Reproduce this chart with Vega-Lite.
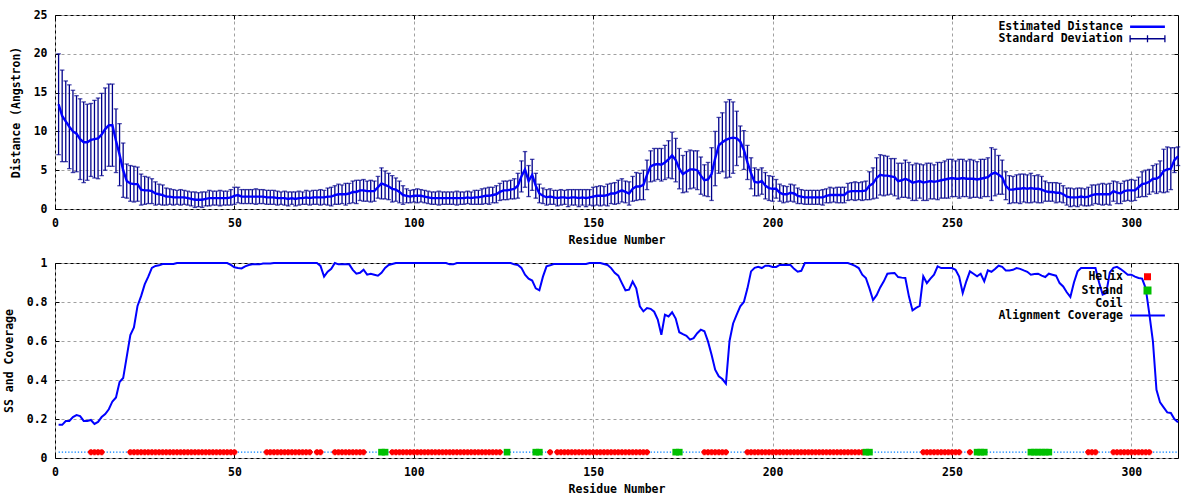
{
"$schema": "https://vega.github.io/schema/vega-lite/v6.json",
"background": "white",
"padding": {"left": 2, "top": 8, "right": 5, "bottom": 0},
"spacing": 9,
"columns": 1,
"align": "none",
"datasets": {"res": [
{"r":1,"d":13.5,"s":6.5,"c":0.17,"ss":"C"},{"r":2,"d":12.0,"s":5.9,"c":0.17,"ss":"C"},{"r":3,"d":11.3,"s":5.2,"c":0.19,"ss":"C"},{"r":4,"d":10.6,"s":5.4,"c":0.19,"ss":"C"},{"r":5,"d":10.0,"s":5.3,"c":0.21,"ss":"C"},{"r":6,"d":9.7,"s":4.9,"c":0.22,"ss":"C"},{"r":7,"d":9.0,"s":5.2,"c":0.215,"ss":"C"},{"r":8,"d":8.6,"s":5.2,"c":0.19,"ss":"C"},{"r":9,"d":8.6,"s":4.9,"c":0.19,"ss":"C"},{"r":10,"d":8.9,"s":4.7,"c":0.195,"ss":"H"},
{"r":11,"d":9.0,"s":5.0,"c":0.175,"ss":"H"},{"r":12,"d":9.1,"s":5.2,"c":0.185,"ss":"H"},{"r":13,"d":9.6,"s":5.3,"c":0.21,"ss":"H"},{"r":14,"d":10.3,"s":5.3,"c":0.225,"ss":"C"},{"r":15,"d":10.8,"s":5.3,"c":0.25,"ss":"C"},{"r":16,"d":10.8,"s":5.3,"c":0.29,"ss":"C"},{"r":17,"d":8.8,"s":4.1,"c":0.31,"ss":"C"},{"r":18,"d":7.0,"s":4.0,"c":0.39,"ss":"C"},{"r":19,"d":5.0,"s":3.5,"c":0.41,"ss":"C"},{"r":20,"d":3.6,"s":2.2,"c":0.52,"ss":"C"},
{"r":21,"d":3.3,"s":2.3,"c":0.63,"ss":"H"},{"r":22,"d":3.2,"s":2.3,"c":0.67,"ss":"H"},{"r":23,"d":3.2,"s":2.2,"c":0.78,"ss":"H"},{"r":24,"d":2.5,"s":2.0,"c":0.83,"ss":"H"},{"r":25,"d":2.4,"s":1.8,"c":0.89,"ss":"H"},{"r":26,"d":2.4,"s":1.7,"c":0.93,"ss":"H"},{"r":27,"d":2.3,"s":1.6,"c":0.975,"ss":"H"},{"r":28,"d":2.0,"s":1.5,"c":0.985,"ss":"H"},{"r":29,"d":1.9,"s":1.3,"c":0.988,"ss":"H"},{"r":30,"d":1.8,"s":1.3,"c":0.995,"ss":"H"},
{"r":31,"d":1.6,"s":1.1,"c":0.995,"ss":"H"},{"r":32,"d":1.6,"s":1.0,"c":0.995,"ss":"H"},{"r":33,"d":1.5,"s":1.0,"c":0.995,"ss":"H"},{"r":34,"d":1.5,"s":0.9,"c":1,"ss":"H"},{"r":35,"d":1.5,"s":1.0,"c":1,"ss":"H"},{"r":36,"d":1.5,"s":0.9,"c":1,"ss":"H"},{"r":37,"d":1.4,"s":0.9,"c":1,"ss":"H"},{"r":38,"d":1.3,"s":0.9,"c":1,"ss":"H"},{"r":39,"d":1.2,"s":1.0,"c":1,"ss":"H"},{"r":40,"d":1.2,"s":0.9,"c":1,"ss":"H"},
{"r":41,"d":1.2,"s":1.0,"c":1,"ss":"H"},{"r":42,"d":1.3,"s":0.9,"c":1,"ss":"H"},{"r":43,"d":1.4,"s":1.0,"c":1,"ss":"H"},{"r":44,"d":1.4,"s":0.9,"c":1,"ss":"H"},{"r":45,"d":1.4,"s":0.9,"c":1,"ss":"H"},{"r":46,"d":1.4,"s":1.0,"c":1,"ss":"H"},{"r":47,"d":1.4,"s":0.9,"c":1,"ss":"H"},{"r":48,"d":1.4,"s":0.9,"c":1,"ss":"H"},{"r":49,"d":1.5,"s":1.0,"c":0.99,"ss":"H"},{"r":50,"d":1.7,"s":1.1,"c":0.978,"ss":"H"},
{"r":51,"d":1.8,"s":1.0,"c":0.974,"ss":"C"},{"r":52,"d":1.6,"s":0.9,"c":0.972,"ss":"C"},{"r":53,"d":1.6,"s":0.9,"c":0.983,"ss":"C"},{"r":54,"d":1.6,"s":0.9,"c":0.99,"ss":"C"},{"r":55,"d":1.6,"s":0.9,"c":0.993,"ss":"C"},{"r":56,"d":1.6,"s":1.0,"c":0.993,"ss":"C"},{"r":57,"d":1.6,"s":0.9,"c":0.993,"ss":"C"},{"r":58,"d":1.6,"s":0.9,"c":0.997,"ss":"C"},{"r":59,"d":1.5,"s":0.9,"c":0.997,"ss":"H"},{"r":60,"d":1.5,"s":0.9,"c":0.997,"ss":"H"},
{"r":61,"d":1.5,"s":0.9,"c":1,"ss":"H"},{"r":62,"d":1.4,"s":0.9,"c":1,"ss":"H"},{"r":63,"d":1.4,"s":0.8,"c":1,"ss":"H"},{"r":64,"d":1.4,"s":0.9,"c":1,"ss":"H"},{"r":65,"d":1.3,"s":0.9,"c":1,"ss":"H"},{"r":66,"d":1.4,"s":0.8,"c":1,"ss":"H"},{"r":67,"d":1.3,"s":0.9,"c":1,"ss":"H"},{"r":68,"d":1.4,"s":0.9,"c":1,"ss":"H"},{"r":69,"d":1.4,"s":0.8,"c":1,"ss":"H"},{"r":70,"d":1.5,"s":0.9,"c":1,"ss":"H"},
{"r":71,"d":1.4,"s":0.9,"c":1,"ss":"H"},{"r":72,"d":1.5,"s":0.9,"c":1,"ss":"C"},{"r":73,"d":1.5,"s":0.9,"c":1,"ss":"H"},{"r":74,"d":1.5,"s":1.0,"c":0.985,"ss":"H"},{"r":75,"d":1.5,"s":0.9,"c":0.93,"ss":"C"},{"r":76,"d":1.6,"s":1.1,"c":0.955,"ss":"C"},{"r":77,"d":1.6,"s":1.2,"c":0.97,"ss":"C"},{"r":78,"d":1.8,"s":1.2,"c":1,"ss":"H"},{"r":79,"d":1.9,"s":1.3,"c":0.993,"ss":"H"},{"r":80,"d":1.9,"s":1.2,"c":0.993,"ss":"H"},
{"r":81,"d":1.9,"s":1.4,"c":0.993,"ss":"H"},{"r":82,"d":2.0,"s":1.3,"c":0.993,"ss":"H"},{"r":83,"d":2.2,"s":1.4,"c":0.965,"ss":"H"},{"r":84,"d":2.2,"s":1.5,"c":0.945,"ss":"H"},{"r":85,"d":2.4,"s":1.3,"c":0.95,"ss":"H"},{"r":86,"d":2.4,"s":1.4,"c":0.966,"ss":"H"},{"r":87,"d":2.3,"s":1.3,"c":0.94,"ss":"C"},{"r":88,"d":2.3,"s":1.4,"c":0.945,"ss":"C"},{"r":89,"d":2.3,"s":1.3,"c":0.94,"ss":"C"},{"r":90,"d":2.8,"s":1.4,"c":0.935,"ss":"C"},
{"r":91,"d":3.3,"s":2.0,"c":0.95,"ss":"E"},{"r":92,"d":3.1,"s":1.8,"c":0.975,"ss":"E"},{"r":93,"d":2.9,"s":1.7,"c":0.99,"ss":"C"},{"r":94,"d":2.6,"s":1.7,"c":0.995,"ss":"H"},{"r":95,"d":2.5,"s":1.5,"c":1,"ss":"H"},{"r":96,"d":2.2,"s":1.4,"c":1,"ss":"H"},{"r":97,"d":1.8,"s":1.2,"c":1,"ss":"H"},{"r":98,"d":1.7,"s":0.9,"c":1,"ss":"H"},{"r":99,"d":1.6,"s":0.8,"c":1,"ss":"H"},{"r":100,"d":1.7,"s":0.8,"c":1,"ss":"H"},
{"r":101,"d":1.7,"s":0.9,"c":1,"ss":"H"},{"r":102,"d":1.7,"s":0.8,"c":1,"ss":"H"},{"r":103,"d":1.6,"s":0.8,"c":1,"ss":"H"},{"r":104,"d":1.5,"s":0.8,"c":1,"ss":"H"},{"r":105,"d":1.4,"s":0.8,"c":1,"ss":"H"},{"r":106,"d":1.4,"s":0.8,"c":1,"ss":"H"},{"r":107,"d":1.4,"s":0.9,"c":1,"ss":"H"},{"r":108,"d":1.4,"s":0.8,"c":1,"ss":"H"},{"r":109,"d":1.4,"s":0.8,"c":1,"ss":"H"},{"r":110,"d":1.4,"s":0.8,"c":0.993,"ss":"H"},
{"r":111,"d":1.4,"s":0.8,"c":0.993,"ss":"H"},{"r":112,"d":1.4,"s":0.9,"c":1,"ss":"H"},{"r":113,"d":1.4,"s":0.8,"c":1,"ss":"H"},{"r":114,"d":1.4,"s":0.8,"c":1,"ss":"H"},{"r":115,"d":1.5,"s":0.8,"c":1,"ss":"H"},{"r":116,"d":1.4,"s":0.8,"c":1,"ss":"H"},{"r":117,"d":1.5,"s":0.9,"c":1,"ss":"H"},{"r":118,"d":1.5,"s":0.9,"c":1,"ss":"H"},{"r":119,"d":1.6,"s":1.0,"c":1,"ss":"H"},{"r":120,"d":1.7,"s":1.0,"c":1,"ss":"H"},
{"r":121,"d":1.7,"s":1.1,"c":1,"ss":"H"},{"r":122,"d":1.8,"s":1.0,"c":1,"ss":"H"},{"r":123,"d":1.9,"s":1.1,"c":1,"ss":"H"},{"r":124,"d":2.2,"s":1.1,"c":1,"ss":"H"},{"r":125,"d":2.4,"s":1.2,"c":1,"ss":"C"},{"r":126,"d":2.4,"s":1.2,"c":1,"ss":"E"},{"r":127,"d":2.5,"s":1.2,"c":1,"ss":"C"},{"r":128,"d":2.6,"s":1.3,"c":0.993,"ss":"C"},{"r":129,"d":3.0,"s":1.6,"c":0.99,"ss":"C"},{"r":130,"d":4.2,"s":2.0,"c":0.975,"ss":"C"},
{"r":131,"d":5.1,"s":2.3,"c":0.94,"ss":"C"},{"r":132,"d":3.6,"s":2.0,"c":0.92,"ss":"C"},{"r":133,"d":4.4,"s":2.0,"c":0.91,"ss":"C"},{"r":134,"d":3.0,"s":1.6,"c":0.87,"ss":"E"},{"r":135,"d":2.0,"s":1.2,"c":0.86,"ss":"E"},{"r":136,"d":1.7,"s":1.0,"c":0.93,"ss":"C"},{"r":137,"d":1.5,"s":1.0,"c":0.983,"ss":"C"},{"r":138,"d":1.6,"s":1.0,"c":0.988,"ss":"H"},{"r":139,"d":1.5,"s":0.9,"c":0.995,"ss":"C"},{"r":140,"d":1.4,"s":1.0,"c":0.995,"ss":"H"},
{"r":141,"d":1.5,"s":1.0,"c":0.995,"ss":"H"},{"r":142,"d":1.5,"s":0.9,"c":0.995,"ss":"H"},{"r":143,"d":1.4,"s":1.1,"c":0.995,"ss":"H"},{"r":144,"d":1.5,"s":1.0,"c":0.995,"ss":"H"},{"r":145,"d":1.5,"s":1.0,"c":0.995,"ss":"H"},{"r":146,"d":1.4,"s":1.1,"c":0.995,"ss":"H"},{"r":147,"d":1.5,"s":1.0,"c":0.995,"ss":"H"},{"r":148,"d":1.4,"s":1.1,"c":0.995,"ss":"H"},{"r":149,"d":1.5,"s":1.0,"c":1,"ss":"H"},{"r":150,"d":1.6,"s":1.2,"c":1,"ss":"H"},
{"r":151,"d":1.7,"s":1.2,"c":1,"ss":"H"},{"r":152,"d":1.7,"s":1.3,"c":1,"ss":"H"},{"r":153,"d":1.7,"s":1.2,"c":0.995,"ss":"H"},{"r":154,"d":1.8,"s":1.4,"c":0.99,"ss":"H"},{"r":155,"d":2.0,"s":1.3,"c":0.974,"ss":"H"},{"r":156,"d":2.0,"s":1.4,"c":0.95,"ss":"H"},{"r":157,"d":2.2,"s":1.5,"c":0.935,"ss":"H"},{"r":158,"d":2.4,"s":1.5,"c":0.897,"ss":"H"},{"r":159,"d":2.2,"s":1.4,"c":0.86,"ss":"H"},{"r":160,"d":2.0,"s":1.5,"c":0.863,"ss":"H"},
{"r":161,"d":2.6,"s":1.6,"c":0.905,"ss":"H"},{"r":162,"d":2.9,"s":1.8,"c":0.87,"ss":"H"},{"r":163,"d":2.9,"s":1.7,"c":0.778,"ss":"H"},{"r":164,"d":3.1,"s":1.9,"c":0.752,"ss":"H"},{"r":165,"d":4.4,"s":1.9,"c":0.769,"ss":"H"},{"r":166,"d":5.5,"s":2.0,"c":0.765,"ss":"C"},{"r":167,"d":5.7,"s":2.1,"c":0.75,"ss":"C"},{"r":168,"d":5.8,"s":2.0,"c":0.71,"ss":"C"},{"r":169,"d":5.7,"s":2.1,"c":0.632,"ss":"C"},{"r":170,"d":6.0,"s":2.2,"c":0.735,"ss":"C"},
{"r":171,"d":6.4,"s":2.4,"c":0.726,"ss":"C"},{"r":172,"d":6.9,"s":3.0,"c":0.747,"ss":"C"},{"r":173,"d":6.3,"s":2.8,"c":0.715,"ss":"E"},{"r":174,"d":5.2,"s":2.6,"c":0.645,"ss":"E"},{"r":175,"d":4.5,"s":2.4,"c":0.635,"ss":"C"},{"r":176,"d":4.8,"s":2.6,"c":0.627,"ss":"C"},{"r":177,"d":5.1,"s":2.5,"c":0.607,"ss":"C"},{"r":178,"d":5.1,"s":2.4,"c":0.615,"ss":"C"},{"r":179,"d":5.0,"s":2.5,"c":0.64,"ss":"C"},{"r":180,"d":4.3,"s":2.4,"c":0.658,"ss":"C"},
{"r":181,"d":3.7,"s":2.0,"c":0.65,"ss":"H"},{"r":182,"d":3.8,"s":2.2,"c":0.598,"ss":"H"},{"r":183,"d":4.5,"s":3.4,"c":0.53,"ss":"H"},{"r":184,"d":6.5,"s":3.5,"c":0.453,"ss":"H"},{"r":185,"d":8.2,"s":3.6,"c":0.419,"ss":"H"},{"r":186,"d":8.6,"s":3.8,"c":0.405,"ss":"H"},{"r":187,"d":8.9,"s":4.9,"c":0.381,"ss":"H"},{"r":188,"d":9.1,"s":5.0,"c":0.6,"ss":"C"},{"r":189,"d":9.2,"s":4.6,"c":0.69,"ss":"C"},{"r":190,"d":9.1,"s":3.5,"c":0.735,"ss":"C"},
{"r":191,"d":8.7,"s":2.0,"c":0.778,"ss":"C"},{"r":192,"d":7.6,"s":2.5,"c":0.8,"ss":"C"},{"r":193,"d":6.0,"s":2.2,"c":0.87,"ss":"H"},{"r":194,"d":4.6,"s":2.0,"c":0.957,"ss":"H"},{"r":195,"d":3.5,"s":1.8,"c":0.975,"ss":"H"},{"r":196,"d":3.4,"s":1.7,"c":0.98,"ss":"H"},{"r":197,"d":3.6,"s":1.7,"c":0.974,"ss":"H"},{"r":198,"d":3.0,"s":1.7,"c":0.986,"ss":"H"},{"r":199,"d":2.7,"s":1.6,"c":0.986,"ss":"H"},{"r":200,"d":2.6,"s":1.6,"c":0.98,"ss":"H"},
{"r":201,"d":2.6,"s":1.2,"c":0.98,"ss":"H"},{"r":202,"d":2.1,"s":1.1,"c":0.99,"ss":"H"},{"r":203,"d":1.9,"s":1.1,"c":0.99,"ss":"H"},{"r":204,"d":1.9,"s":1.0,"c":0.99,"ss":"H"},{"r":205,"d":2.1,"s":1.1,"c":0.99,"ss":"H"},{"r":206,"d":2.0,"s":1.1,"c":0.97,"ss":"H"},{"r":207,"d":1.7,"s":1.0,"c":0.955,"ss":"H"},{"r":208,"d":1.6,"s":0.9,"c":0.96,"ss":"H"},{"r":209,"d":1.5,"s":0.9,"c":1,"ss":"H"},{"r":210,"d":1.5,"s":0.9,"c":1,"ss":"H"},
{"r":211,"d":1.5,"s":0.9,"c":1,"ss":"H"},{"r":212,"d":1.5,"s":0.9,"c":1,"ss":"H"},{"r":213,"d":1.5,"s":0.9,"c":1,"ss":"H"},{"r":214,"d":1.5,"s":1.0,"c":1,"ss":"H"},{"r":215,"d":1.7,"s":0.9,"c":1,"ss":"H"},{"r":216,"d":1.8,"s":1.0,"c":1,"ss":"H"},{"r":217,"d":1.8,"s":0.9,"c":1,"ss":"H"},{"r":218,"d":1.8,"s":1.0,"c":1,"ss":"H"},{"r":219,"d":1.8,"s":1.0,"c":1,"ss":"H"},{"r":220,"d":1.8,"s":1.0,"c":1,"ss":"H"},
{"r":221,"d":2.2,"s":1.1,"c":1,"ss":"H"},{"r":222,"d":2.3,"s":1.1,"c":0.993,"ss":"H"},{"r":223,"d":2.3,"s":1.2,"c":0.985,"ss":"H"},{"r":224,"d":2.3,"s":1.1,"c":0.974,"ss":"H"},{"r":225,"d":2.3,"s":1.2,"c":0.94,"ss":"H"},{"r":226,"d":2.4,"s":1.2,"c":0.923,"ss":"E"},{"r":227,"d":3.0,"s":1.8,"c":0.87,"ss":"E"},{"r":228,"d":3.3,"s":2.0,"c":0.81,"ss":"C"},{"r":229,"d":4.0,"s":2.6,"c":0.835,"ss":"C"},{"r":230,"d":4.4,"s":2.6,"c":0.875,"ss":"C"},
{"r":231,"d":4.3,"s":2.6,"c":0.906,"ss":"C"},{"r":232,"d":4.3,"s":2.5,"c":0.945,"ss":"C"},{"r":233,"d":4.2,"s":2.3,"c":0.947,"ss":"C"},{"r":234,"d":4.1,"s":2.4,"c":0.949,"ss":"C"},{"r":235,"d":3.6,"s":2.3,"c":0.928,"ss":"C"},{"r":236,"d":3.7,"s":2.2,"c":0.925,"ss":"C"},{"r":237,"d":3.9,"s":2.4,"c":0.923,"ss":"C"},{"r":238,"d":3.7,"s":2.3,"c":0.829,"ss":"C"},{"r":239,"d":3.4,"s":2.3,"c":0.757,"ss":"C"},{"r":240,"d":3.5,"s":2.4,"c":0.77,"ss":"C"},
{"r":241,"d":3.6,"s":2.2,"c":0.78,"ss":"C"},{"r":242,"d":3.4,"s":2.3,"c":0.932,"ss":"H"},{"r":243,"d":3.5,"s":2.4,"c":0.897,"ss":"H"},{"r":244,"d":3.6,"s":2.3,"c":0.92,"ss":"H"},{"r":245,"d":3.5,"s":2.2,"c":0.94,"ss":"H"},{"r":246,"d":3.6,"s":2.4,"c":0.983,"ss":"H"},{"r":247,"d":3.7,"s":2.3,"c":0.974,"ss":"H"},{"r":248,"d":3.8,"s":2.4,"c":0.974,"ss":"H"},{"r":249,"d":3.9,"s":2.5,"c":0.974,"ss":"H"},{"r":250,"d":4.0,"s":2.4,"c":0.974,"ss":"H"},
{"r":251,"d":3.9,"s":2.3,"c":0.965,"ss":"H"},{"r":252,"d":3.9,"s":2.5,"c":0.93,"ss":"H"},{"r":253,"d":4.0,"s":2.4,"c":0.846,"ss":"C"},{"r":254,"d":3.9,"s":2.3,"c":0.906,"ss":"C"},{"r":255,"d":3.9,"s":2.5,"c":0.957,"ss":"H"},{"r":256,"d":3.9,"s":2.4,"c":0.945,"ss":"C"},{"r":257,"d":3.8,"s":2.3,"c":0.932,"ss":"E"},{"r":258,"d":3.9,"s":2.5,"c":0.945,"ss":"E"},{"r":259,"d":4.0,"s":2.4,"c":0.906,"ss":"E"},{"r":260,"d":4.1,"s":2.5,"c":0.962,"ss":"C"},
{"r":261,"d":4.5,"s":3.4,"c":0.955,"ss":"C"},{"r":262,"d":4.7,"s":3.0,"c":0.969,"ss":"C"},{"r":263,"d":4.4,"s":2.5,"c":0.986,"ss":"C"},{"r":264,"d":4.1,"s":2.2,"c":0.98,"ss":"C"},{"r":265,"d":3.0,"s":1.8,"c":0.962,"ss":"C"},{"r":266,"d":2.5,"s":1.8,"c":0.962,"ss":"C"},{"r":267,"d":2.5,"s":1.7,"c":0.965,"ss":"C"},{"r":268,"d":2.6,"s":1.8,"c":0.974,"ss":"C"},{"r":269,"d":2.6,"s":1.9,"c":0.97,"ss":"C"},{"r":270,"d":2.7,"s":1.8,"c":0.962,"ss":"C"},
{"r":271,"d":2.6,"s":1.8,"c":0.955,"ss":"C"},{"r":272,"d":2.7,"s":1.9,"c":0.94,"ss":"E"},{"r":273,"d":2.6,"s":1.7,"c":0.943,"ss":"E"},{"r":274,"d":2.6,"s":1.8,"c":0.945,"ss":"E"},{"r":275,"d":2.5,"s":1.7,"c":0.935,"ss":"E"},{"r":276,"d":2.3,"s":1.3,"c":0.928,"ss":"E"},{"r":277,"d":2.2,"s":1.2,"c":0.945,"ss":"E"},{"r":278,"d":2.2,"s":1.2,"c":0.94,"ss":"C"},{"r":279,"d":2.1,"s":1.3,"c":0.935,"ss":"C"},{"r":280,"d":2.1,"s":1.2,"c":0.897,"ss":"C"},
{"r":281,"d":1.9,"s":1.1,"c":0.88,"ss":"C"},{"r":282,"d":1.6,"s":1.1,"c":0.85,"ss":"C"},{"r":283,"d":1.5,"s":1.2,"c":0.826,"ss":"C"},{"r":284,"d":1.5,"s":1.1,"c":0.9,"ss":"C"},{"r":285,"d":1.5,"s":1.2,"c":0.957,"ss":"C"},{"r":286,"d":1.6,"s":1.1,"c":0.974,"ss":"C"},{"r":287,"d":1.5,"s":1.1,"c":0.974,"ss":"C"},{"r":288,"d":1.6,"s":1.2,"c":0.974,"ss":"H"},{"r":289,"d":1.8,"s":1.3,"c":0.974,"ss":"H"},{"r":290,"d":1.9,"s":1.2,"c":0.974,"ss":"H"},
{"r":291,"d":1.9,"s":1.3,"c":0.9,"ss":"C"},{"r":292,"d":1.9,"s":1.4,"c":0.838,"ss":"C"},{"r":293,"d":1.9,"s":1.3,"c":0.846,"ss":"C"},{"r":294,"d":1.9,"s":1.4,"c":0.952,"ss":"C"},{"r":295,"d":2.3,"s":1.3,"c":0.975,"ss":"H"},{"r":296,"d":2.1,"s":1.4,"c":0.98,"ss":"H"},{"r":297,"d":2.0,"s":1.3,"c":0.969,"ss":"H"},{"r":298,"d":2.3,"s":1.3,"c":0.955,"ss":"H"},{"r":299,"d":2.4,"s":1.3,"c":0.94,"ss":"H"},{"r":300,"d":2.4,"s":1.4,"c":0.94,"ss":"H"},
{"r":301,"d":2.4,"s":1.3,"c":0.93,"ss":"H"},{"r":302,"d":2.8,"s":1.3,"c":0.923,"ss":"H"},{"r":303,"d":3.2,"s":1.6,"c":0.92,"ss":"H"},{"r":304,"d":3.3,"s":1.7,"c":0.87,"ss":"H"},{"r":305,"d":3.5,"s":1.6,"c":0.74,"ss":"H"},{"r":306,"d":3.9,"s":1.7,"c":0.6,"ss":"C"},{"r":307,"d":3.9,"s":1.9,"c":0.35,"ss":"C"},{"r":308,"d":4.2,"s":2.0,"c":0.285,"ss":"C"},{"r":309,"d":4.9,"s":2.8,"c":0.26,"ss":"C"},{"r":310,"d":5.1,"s":2.9,"c":0.234,"ss":"C"},
{"r":311,"d":5.2,"s":2.7,"c":0.231,"ss":"C"},{"r":312,"d":6.3,"s":1.6,"c":0.2,"ss":"C"},{"r":313,"d":6.8,"s":1.2,"c":0.183,"ss":"C"}
]},
"concat": [
 {
  "width": 1123, "height": 194,
  "data": {"name": "res"},
  "layer": [
   {
    "mark": {"type": "point", "opacity": 0},
    "encoding": {
     "x": {"field": "r", "type": "quantitative", "scale": {"domain": [0, 313], "nice": false, "zero": false}, "axis": {"values": [0,50,100,150,200,250,300], "title": "Residue Number", "grid": true}},
     "y": {"field": "d", "type": "quantitative", "scale": {"domain": [0, 25], "nice": false}, "axis": {"values": [0,5,10,15,20,25], "title": "Distance (Angstron)", "grid": true}}
    }
   },
   {
    "mark": {"type": "errorbar", "ticks": true, "size": 4.5, "thickness": 1.3},
    "encoding": {
     "x": {"field": "r", "type": "quantitative", "axis": null},
     "y": {"field": "d", "type": "quantitative", "axis": null},
     "yError": {"field": "s"},
     "color": {"datum": "Standard Deviation", "type": "nominal",
      "scale": {"domain": ["Estimated Distance", "Standard Deviation"], "range": ["#0000ff", "#00008b"]},
      "legend": {"title": null, "orient": "none", "legendX": 939, "legendY": 2, "padding": 4, "fillColor": "white",
       "symbolSize": 16, "rowPadding": -1.2, "labelLimit": 400,
       "encode": {
        "symbols": {"update": {
         "x": {"value": 149.5},
         "shape": {"signal": "datum.value === 'Standard Deviation' ? 'M-8.7,0H8.7M-8.7,-1.8V1.8M8.7,-1.8V1.8M0,-1.8V1.8' : 'M-8.7,0H8.7'"},
         "size": {"value": 16},
         "stroke": {"signal": "datum.value === 'Standard Deviation' ? '#00008b' : '#0000ff'"},
         "strokeWidth": {"signal": "datum.value === 'Standard Deviation' ? 1.3 : 2.4"},
         "fill": {"value": "transparent"}, "opacity": {"value": 1}}},
        "labels": {"update": {"x": {"value": 125}, "align": {"value": "right"}}}}}}
    }
   },
   {
    "mark": {"type": "line", "strokeWidth": 2.4},
    "encoding": {
     "x": {"field": "r", "type": "quantitative", "axis": null},
     "y": {"field": "d", "type": "quantitative", "axis": null},
     "color": {"datum": "Estimated Distance", "type": "nominal"}
    }
   },
   {
    "mark": {"type": "point", "opacity": 0},
    "encoding": {
     "x": {"field": "r", "type": "quantitative", "axis": {"orient": "top", "values": [0,50,100,150,200,250,300], "labels": false, "title": null, "grid": false}},
     "y": {"field": "d", "type": "quantitative", "axis": {"orient": "right", "values": [0,5,10,15,20,25], "labels": false, "title": null, "grid": false}}
    }
   }
  ],
  "resolve": {"axis": {"x": "independent", "y": "independent"}}
 },
 {
  "width": 1123, "height": 195,
  "data": {"name": "res"},
  "layer": [
   {
    "mark": {"type": "line", "strokeWidth": 1.3, "strokeDash": [1.3, 1.9]},
    "encoding": {
     "x": {"field": "r", "type": "quantitative", "scale": {"domain": [0, 313], "nice": false, "zero": false}, "axis": {"values": [0,50,100,150,200,250,300], "title": "Residue Number", "grid": true}},
     "y": {"datum": 0.03, "type": "quantitative", "scale": {"domain": [0, 1], "nice": false}, "axis": {"values": [0,0.2,0.4,0.6,0.8,1], "format": "~g", "title": "SS and Coverage", "grid": true}},
     "color": {"datum": "Coil", "type": "nominal",
      "scale": {"domain": ["Helix", "Strand", "Coil", "Alignment Coverage"], "range": ["#ff0000", "#00c000", "#0080ff", "#0000ff"]},
      "legend": {"title": null, "orient": "none", "legendX": 939, "legendY": 4, "padding": 4,
       "symbolSize": 16, "rowPadding": -1.2, "labelLimit": 400,
       "encode": {
        "symbols": {"update": {
         "x": {"value": 149.5},
         "shape": {"signal": "datum.value === 'Alignment Coverage' ? 'M-8.7,0H8.7' : 'square'"},
         "size": {"signal": "datum.value === 'Helix' ? 25 : datum.value === 'Strand' ? 36 : 16"},
         "fill": {"signal": "datum.value === 'Helix' ? '#ff0000' : datum.value === 'Strand' ? '#00c000' : 'transparent'"},
         "stroke": {"signal": "datum.value === 'Alignment Coverage' ? '#0000ff' : 'transparent'"},
         "strokeWidth": {"value": 2},
         "opacity": {"signal": "datum.value === 'Coil' ? 0 : 1"}}},
        "labels": {"update": {"x": {"value": 125}, "align": {"value": "right"}}}}}}
    }
   },
   {
    "transform": [{"filter": "datum.ss === 'H'"}],
    "mark": {"type": "point", "shape": "square", "filled": true, "size": 20, "opacity": 1},
    "encoding": {
     "x": {"field": "r", "type": "quantitative", "axis": null},
     "y": {"datum": 0.03, "type": "quantitative", "axis": null},
     "color": {"datum": "Helix", "type": "nominal"}
    }
   },
   {
    "transform": [{"filter": "datum.ss === 'H'"}],
    "mark": {"type": "point", "shape": "cross", "filled": true, "size": 36, "opacity": 1},
    "encoding": {
     "x": {"field": "r", "type": "quantitative", "axis": null},
     "y": {"datum": 0.03, "type": "quantitative", "axis": null},
     "color": {"datum": "Helix", "type": "nominal"}
    }
   },
   {
    "transform": [{"filter": "datum.ss === 'E'"}],
    "mark": {"type": "point", "shape": "square", "filled": true, "size": 44, "opacity": 1},
    "encoding": {
     "x": {"field": "r", "type": "quantitative", "axis": null},
     "y": {"datum": 0.03, "type": "quantitative", "axis": null},
     "color": {"datum": "Strand", "type": "nominal"}
    }
   },
   {
    "mark": {"type": "line", "strokeWidth": 2},
    "encoding": {
     "x": {"field": "r", "type": "quantitative", "axis": null},
     "y": {"field": "c", "type": "quantitative", "axis": null},
     "color": {"datum": "Alignment Coverage", "type": "nominal"}
    }
   },
   {
    "mark": {"type": "point", "opacity": 0},
    "encoding": {
     "x": {"field": "r", "type": "quantitative", "axis": {"orient": "top", "values": [0,50,100,150,200,250,300], "labels": false, "title": null, "grid": false}},
     "y": {"field": "c", "type": "quantitative", "axis": {"orient": "right", "values": [0,0.2,0.4,0.6,0.8,1], "labels": false, "title": null, "grid": false}}
    }
   }
  ],
  "resolve": {"axis": {"x": "independent", "y": "independent"}}
 }
],
"resolve": {"scale": {"color": "independent", "x": "independent", "y": "independent"}, "legend": {"color": "independent"}},
"config": {
 "view": {"stroke": "black", "strokeWidth": 1},
 "axis": {"domain": false, "labelFont": "DejaVu Sans Mono", "labelFontSize": 11.5, "labelFontWeight": "bold", "labelColor": "black",
  "titleFont": "DejaVu Sans Mono", "titleFontSize": 11.5, "titleFontWeight": "bold", "titleColor": "black",
  "tickColor": "black", "tickSize": -4, "tickWidth": 1, "gridColor": "#a0a0a0", "gridDash": [3, 3], "gridWidth": 1,
  "labelPadding": 12, "titlePadding": 6, "labelFlush": false, "labelOverlap": false},
 "axisX": {"labelDx": 2},
 "axisY": {"titlePadding": 12},
 "legend": {"labelFont": "DejaVu Sans Mono", "labelFontSize": 11.5, "labelFontWeight": "bold", "labelColor": "black"}
}
}
